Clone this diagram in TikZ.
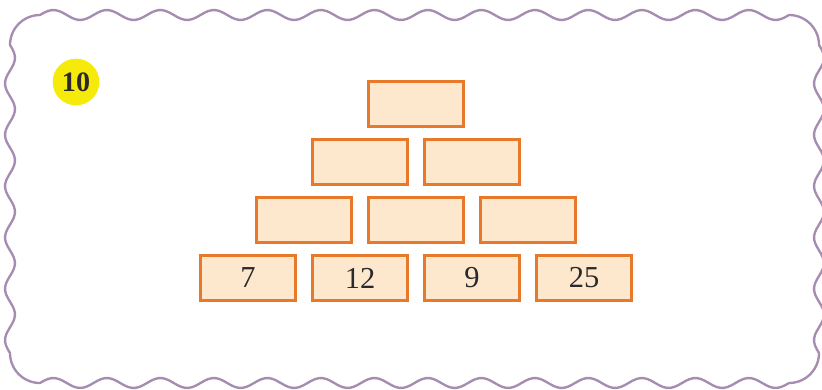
\documentclass[tikz,border=0pt]{standalone}
\usepackage{fontspec}
\setmainfont{Liberation Serif}
\usepackage{xcolor}
\usepackage{tikz}
\usetikzlibrary{positioning,calc}
\definecolor{BrickOrange}{HTML}{E8782A}
\definecolor{BrickFill}{HTML}{FDE8CE}
\definecolor{FrameLilac}{HTML}{A68CB0}
\definecolor{BadgeYellow}{HTML}{F6EA0A}
\definecolor{TextDark}{HTML}{2A2A2A}

\begin{document}
\begin{tikzpicture}[x=0.03cm,y=-0.03cm,
    brick/.style={draw=BrickOrange, fill=BrickFill, line width=2.7pt,
      minimum width=2.85cm, minimum height=1.36cm, inner sep=0pt,
      text=TextDark, font=\fontsize{26}{30}\selectfont},
    node distance=0.285cm and 0.415cm]
        \useasboundingbox (0,0) rectangle (822,389);
        % wavy frame
        \draw[FrameLilac, line width=2pt, line join=round]
          plot[domain=40:789, samples=197] (\x, {15-5*sin((\x-40)/749*5040)})
          -- plot[domain=90:0, samples=19] ({789+30*cos(\x)}, {45-30*sin(\x)})
          -- plot[domain=45:353, samples=85] ({819+5*sin((\x-45)/308*2160)}, \x)
          -- plot[domain=0:-90, samples=19] ({789+30*cos(\x)}, {353-30*sin(\x)})
          -- plot[domain=789:40, samples=197] (\x, {383+5*sin((789-\x)/749*5040)})
          -- plot[domain=-90:-180, samples=19] ({40+30*cos(\x)}, {353-30*sin(\x)})
          -- plot[domain=353:45, samples=85] ({10-5*sin((353-\x)/308*2160)}, \x)
          -- plot[domain=180:90, samples=19] ({40+30*cos(\x)}, {45-30*sin(\x)})
          -- cycle;
        % badge
        \node[circle, fill=BadgeYellow, minimum size=1.4cm, inner sep=0pt,
          text=TextDark, font=\fontsize{24}{26}\selectfont\bfseries] (badge) at (76,82) {10};
        % bottom row
        \node[brick] (b1) at (248,278) {7};
        \node[brick, right=of b1] (b2) {12};
        \node[brick, right=of b2] (b3) {9};
        \node[brick, right=of b3] (b4) {25};
        % third row
        \coordinate (m12) at ($(b1.north)!.5!(b2.north)$);
        \node[brick, above=of m12] (c1) {};
        \node[brick, right=of c1] (c2) {};
        \node[brick, right=of c2] (c3) {};
        % second row
        \coordinate (m23) at ($(c1.north)!.5!(c2.north)$);
        \node[brick, above=of m23] (d1) {};
        \node[brick, right=of d1] (d2) {};
        % top
        \coordinate (mtop) at ($(d1.north)!.5!(d2.north)$);
        \node[brick, above=of mtop] (e1) {};
      \end{tikzpicture}
\end{document}
